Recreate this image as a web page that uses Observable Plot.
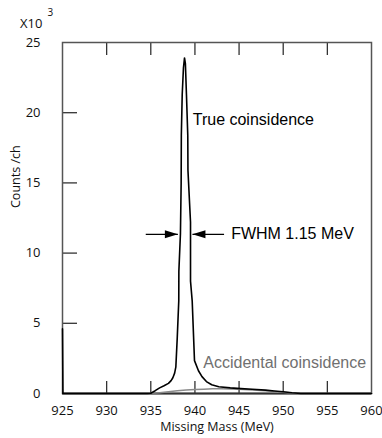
<!DOCTYPE html>
<html><head><meta charset="utf-8">
<script src="https://cdn.jsdelivr.net/npm/d3@7"></script>
<script src="https://cdn.jsdelivr.net/npm/@observablehq/plot@0.6"></script>
<style>body{margin:0;background:#fff}</style>
</head><body><div id="chart"></div>
<script>
// True coincidence spectrum (counts per channel, x10^3)
const trueMass = [925, 925.05, 934.6, 935, 935.5, 936, 936.5, 937, 937.3, 937.5, 937.7, 937.84, 938.0, 938.17, 938.18, 938.36, 938.44, 938.46, 938.56, 938.7, 938.82, 938.92, 939.04, 939.19, 939.21, 939.5, 939.5, 939.69, 939.95, 940.4, 940.8, 941.3, 941.9, 942.7, 944, 945.2, 946.5, 948, 949, 950, 951, 952, 960];
const trueCounts = [4.6, 0, 0, 0.02, 0.2, 0.4, 0.55, 0.72, 0.92, 1.12, 1.45, 1.9, 4.0, 6.6, 8.7, 11.4, 15.0, 18.4, 21.3, 23.2, 23.9, 23.5, 21.3, 18.4, 15.9, 12.2, 8.0, 6.6, 2.34, 1.62, 1.2, 0.85, 0.62, 0.48, 0.4, 0.35, 0.3, 0.24, 0.18, 0.12, 0.05, 0.0, 0];
// Accidental coincidence spectrum
const accMass = [934.5, 935, 936, 937, 938, 939, 940, 941, 942, 943, 944, 945, 946, 947, 948, 949, 950, 951, 952, 953, 960];
const accCounts = [0, 0.01, 0.06, 0.13, 0.2, 0.25, 0.29, 0.31, 0.33, 0.33, 0.32, 0.3, 0.27, 0.23, 0.19, 0.14, 0.09, 0.04, 0.01, 0, 0];
const xTicks = [925, 930, 935, 940, 945, 950, 955, 960];
const yTicks = [0, 5, 10, 15, 20, 25];
const innerX = [930, 935, 940, 945, 950, 955];
const innerY = [5, 10, 15, 20];
// FWHM arrows
const fwhmLevel = 11.34;
const arrowsData = [
  {x1: 934.43, x2: 938.07, rot: 0},
  {x1: 943.3, x2: 939.72, rot: 180}
];
const labels = [
  {x: 939.75, y: 19.5, text: "True coinsidence", fill: "#000"},
  {x: 944.1, y: 11.34, text: "FWHM 1.15 MeV", fill: "#000"},
  {x: 940.95, y: 2.2, text: "Accidental coinsidence", fill: "#707070"}
];

const trueData = trueMass.map((m, i) => ({m, c: trueCounts[i]}));
const accData = accMass.map((m, i) => ({m, c: accCounts[i]}));

const arrowHead = {
  draw(ctx, size) {
    ctx.moveTo(0, 0);
    ctx.lineTo(-13, -4);
    ctx.lineTo(-13, 4);
    ctx.closePath();
  }
};

const axisFont = "'Open Sans', sans-serif";
const annFont = "'Liberation Sans', Arial, sans-serif";

const chart = Plot.plot({
  width: 382,
  height: 438,
  marginLeft: 62,
  marginRight: 11,
  marginTop: 42,
  marginBottom: 45,
  style: {fontFamily: axisFont, background: "#fff"},
  x: {domain: [925, 960]},
  y: {domain: [0, 25]},
  marks: [
    Plot.axisX({ticks: xTicks, tickSize: 0, tickPadding: 12, fontSize: 13, fill: "#111", label: null, tickFormat: d => String(d)}),
    Plot.axisY({ticks: yTicks, tickSize: 0, tickPadding: 22, fontSize: 13, fill: "#111", label: null}),
    Plot.axisX({ticks: innerX, tickSize: -12, tickFormat: () => "", stroke: "#333", strokeWidth: 1.3, label: null}),
    Plot.axisX({anchor: "top", ticks: innerX, tickSize: -12, tickFormat: () => "", stroke: "#333", strokeWidth: 1.3, label: null}),
    Plot.axisY({ticks: innerY, tickSize: -15, tickFormat: () => "", stroke: "#333", strokeWidth: 1.3, label: null}),
    Plot.frame({stroke: "#555", strokeWidth: 1.5}),
    Plot.ruleY([0], {stroke: "#333", strokeWidth: 2}),
    Plot.line(accData, {x: "m", y: "c", stroke: "#8a8a8a", strokeWidth: 1.5}),
    Plot.line(trueData, {x: "m", y: "c", stroke: "#000", strokeWidth: 1.6}),
    Plot.link(arrowsData, {x1: "x1", x2: "x2", y1: fwhmLevel, y2: fwhmLevel, stroke: "#000", strokeWidth: 1.3}),
    Plot.dot(arrowsData, {x: "x2", y: fwhmLevel, symbol: arrowHead, rotate: "rot", fill: "#000", stroke: null}),
    Plot.text(labels, {x: "x", y: "y", text: "text", fill: "fill", textAnchor: "start", fontSize: 16, fontFamily: annFont}),
    Plot.text(["X10"], {frameAnchor: "top-left", textAnchor: "end", dx: -20, dy: -24, fontSize: 13, fill: "#111"}),
    Plot.text(["3"], {frameAnchor: "top-left", textAnchor: "start", dx: -15, dy: -34, fontSize: 10, fill: "#111"}),
    Plot.text(["Counts /ch"], {frameAnchor: "left", rotate: -90, dx: -47, dy: -10, fontSize: 12.5, fill: "#111"}),
    Plot.text(["Missing Mass (MeV)"], {frameAnchor: "bottom", dy: 37, fontSize: 12.5, fill: "#111"})
  ]
});
document.getElementById("chart").append(chart);
</script>
</body></html>
